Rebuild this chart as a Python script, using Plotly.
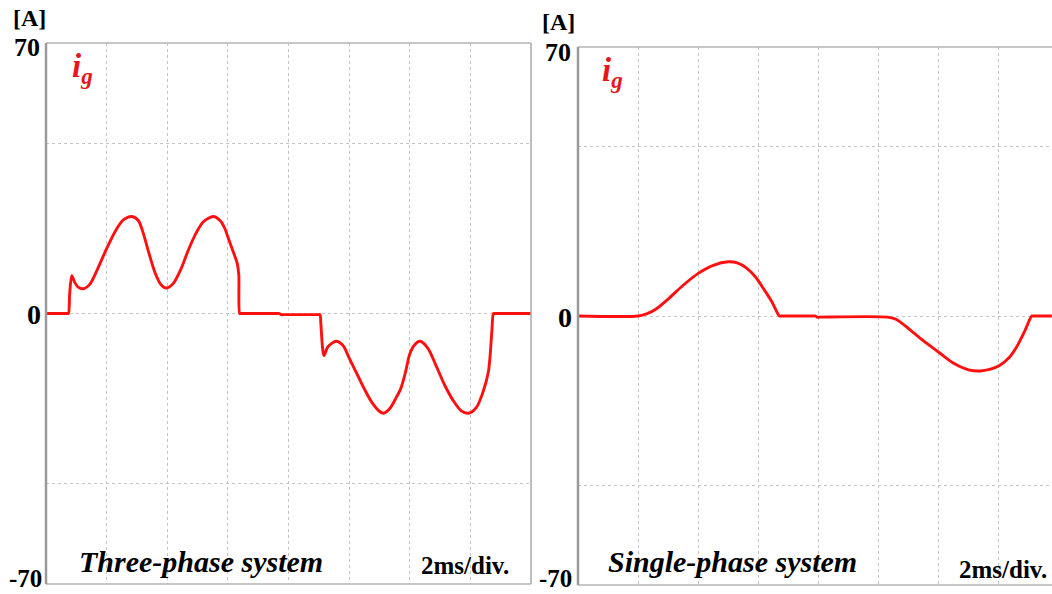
import plotly.graph_objects as go

# ---------------- data (time in ms, current in A) ----------------
t_three = [0.0, 0.70, 0.74, 0.78, 0.85, 0.95, 1.05, 1.23, 1.45, 1.7, 2.0, 2.3, 2.55, 2.83, 3.05, 3.2,
           3.4, 3.6, 3.8, 3.98, 4.2, 4.45, 4.7, 4.95, 5.2, 5.52, 5.75, 5.9, 6.0, 6.18, 6.31, 6.36,
           6.39, 6.43, 7.6, 7.7, 7.75, 7.85, 9.0, 9.04, 9.07, 9.17, 9.3, 9.57, 9.8, 10.0, 10.25,
           10.5, 10.75, 11.0, 11.13, 11.35, 11.55, 11.7, 11.85, 12.0, 12.15, 12.34, 12.6, 12.89,
           13.15, 13.44, 13.7, 13.94, 14.2, 14.43, 14.6, 14.71, 14.76, 14.80, 16.3]
i_three = [0.0, 0.0, 0.0, 5.0, 9.8, 8.0, 6.9, 6.4, 7.6, 11.5, 16.8, 21.5, 24.2, 25.1, 24.0, 21.0,
           15.5, 10.5, 7.4, 6.6, 7.8, 11.5, 16.5, 20.8, 23.8, 25.1, 24.0, 22.0, 19.8, 15.9, 12.9, 10.0,
           0.0, 0.0, 0.0, 0.0, -0.3, -0.3, -0.3, -0.3, -3.0, -10.9, -8.6, -7.2, -8.3, -11.5, -15.5,
           -19.5, -23.0, -25.3, -25.8, -24.5, -21.8, -19.5, -15.5, -10.5, -8.2, -7.2, -9.0, -13.9,
           -18.5, -22.6, -25.2, -25.8, -24.3, -20.0, -14.8, -4.4, 0.0, 0.0, 0.0]

t_single = [0.0, 2.0, 2.3, 2.6, 3.0, 3.5, 4.0, 4.5, 5.0, 5.3, 5.6, 5.9, 6.2, 6.45, 6.7, 6.75, 7.8,
            7.9, 7.95, 8.05, 10.3, 10.6, 11.05, 11.5, 12.05, 12.5, 13.0, 13.38, 13.7, 14.04, 14.35,
            14.6, 14.85, 15.1, 15.15, 15.77]
i_single = [0.0, 0.0, 0.6, 1.8, 4.4, 8.0, 11.1, 13.2, 14.1, 13.8, 12.5, 10.2, 6.8, 3.7, 0.0, 0.0, 0.0,
            0.0, -0.3, -0.3, -0.3, -0.9, -3.6, -6.5, -9.7, -12.3, -14.0, -14.3, -13.9, -12.8, -10.8,
            -8.0, -4.2, 0.0, 0.0, 0.0]

x_grid = [2, 4, 6, 8, 10, 12, 14]
y_grid = [-44, 0, 44]
y_labels = ["70", "0", "-70"]
panel_titles = ["Three-phase system", "Single-phase system"]
scale_text = "2ms/div."

# ---------------- layout geometry ----------------
W, H = 1052, 594
def px(x):
    return x / W
def py(y):
    return 1 - y / H

L_dom_x = [px(46), px(531)]
L_dom_y = [py(584), py(43)]
R_dom_x = [px(578), 1.0]
R_dom_y = [py(585), py(47)]

RED = "#ff1010"
SERIF = "Liberation Serif"

fig = go.Figure()
fig.add_trace(go.Scatter(x=t_three, y=i_three, mode="lines",
                         line=dict(color=RED, width=2.9, shape="spline", smoothing=0.8),
                         xaxis="x", yaxis="y", showlegend=False, hoverinfo="skip"))
fig.add_trace(go.Scatter(x=t_single, y=i_single, mode="lines",
                         line=dict(color=RED, width=2.9, shape="spline", smoothing=0.8),
                         xaxis="x2", yaxis="y2", showlegend=False, hoverinfo="skip"))

grid_style = dict(showgrid=True, gridcolor="#c4c4c4", griddash="dot", gridwidth=1,
                  zeroline=False, showticklabels=False, ticks="", showline=False,
                  fixedrange=True)

fig.update_layout(
    width=W, height=H,
    margin=dict(l=0, r=0, t=0, b=0),
    paper_bgcolor="white", plot_bgcolor="white",
    xaxis=dict(domain=L_dom_x, range=[0, 16.0], tickvals=x_grid, anchor="y", **grid_style),
    yaxis=dict(domain=L_dom_y, range=[-70, 70], tickvals=y_grid, anchor="x", **grid_style),
    xaxis2=dict(domain=R_dom_x, range=[0, 16 * (1052 - 578) / (8 * 60.1)], tickvals=x_grid,
                anchor="y2", **grid_style),
    yaxis2=dict(domain=R_dom_y, range=[-70, 70], tickvals=y_grid, anchor="x2", **grid_style),
)

# frames
frame_col = "#b4b4b4"
shapes = []
for xr, yr, right in (("x", "y", True), ("x2", "y2", False)):
    xd, yd = xr + " domain", yr + " domain"
    shapes.append(dict(type="line", xref=xd, yref=yd, x0=0, x1=1, y0=1, y1=1,
                       line=dict(color=frame_col, width=1.5)))
    shapes.append(dict(type="line", xref=xd, yref=yd, x0=0, x1=1, y0=0, y1=0,
                       line=dict(color=frame_col, width=1.5)))
    shapes.append(dict(type="line", xref=xd, yref=yd, x0=0, x1=0, y0=0, y1=1,
                       line=dict(color="#9a9a9a", width=2.5)))
    if right:
        shapes.append(dict(type="line", xref=xd, yref=yd, x0=1, x1=1, y0=0, y1=1,
                           line=dict(color="#a8a8a8", width=1.5)))
fig.update_layout(shapes=shapes)

# text annotations
ann = []
def label(x, y, text, size, color="black", xanchor="center", italic=False):
    t = "<b>" + (f"<i>{text}</i>" if italic else text) + "</b>"
    ann.append(dict(x=px(x), y=py(y), xref="paper", yref="paper", text=t, showarrow=False,
                    xanchor=xanchor, yanchor="middle",
                    font=dict(family=SERIF, size=size, color=color)))

# left panel
label(29, 18, "[A]", 24)
label(42, 48, y_labels[0], 26, xanchor="right")
label(43, 314, y_labels[1], 28, xanchor="right")
label(44, 578, y_labels[2], 25, xanchor="right")
label(82, 68, "i<sub>g</sub>", 33, color="#e8141e", italic=True)
label(201, 561, panel_titles[0], 30, italic=True)
label(465, 565, scale_text, 25)

# right panel
label(558, 22, "[A]", 24)
label(573, 52, y_labels[0], 26, xanchor="right")
label(574, 317, y_labels[1], 28, xanchor="right")
label(574, 578, y_labels[2], 25, xanchor="right")
label(612, 72, "i<sub>g</sub>", 33, color="#e8141e", italic=True)
label(732, 561, panel_titles[1], 30, italic=True)
label(1049, 569, scale_text, 25, xanchor="right")

fig.update_layout(annotations=ann)

fig.write_html("out.html",
               config={"displayModeBar": False},
               post_script="document.body.style.margin='0';document.body.style.overflow='hidden';")
